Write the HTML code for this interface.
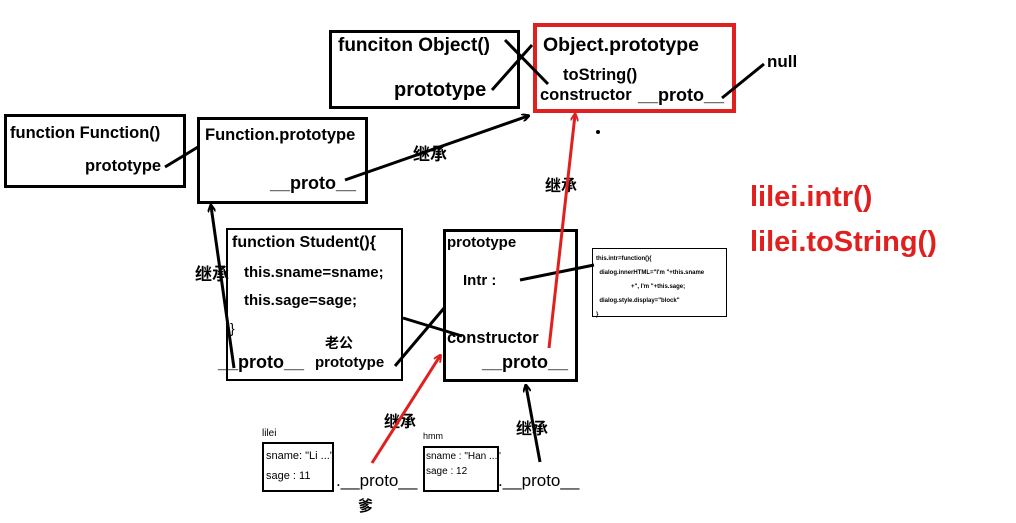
<!DOCTYPE html>
<html><head><meta charset="utf-8"><style>
body{margin:0;width:1016px;height:523px;background:#fff;position:relative;overflow:hidden;font-family:"Liberation Sans","Noto Sans CJK SC",sans-serif;font-weight:bold;color:#000}
.b{position:absolute;border:3px solid #000;box-sizing:border-box}
.t{position:absolute;white-space:nowrap}
</style></head><body>
<div class="b" style="left:329px;top:30px;width:191px;height:79px"></div>
<div class="b" style="left:533px;top:23px;width:203px;height:90px;border:4px solid #e0201f"></div>
<div class="b" style="left:4px;top:114px;width:182px;height:74px"></div>
<div class="b" style="left:197px;top:117px;width:171px;height:87px"></div>
<div class="b" style="left:226px;top:228px;width:177px;height:153px;border-width:2px"></div>
<div class="b" style="left:443px;top:229px;width:135px;height:153px"></div>
<div class="b" style="left:592px;top:248px;width:135px;height:69px;border-width:1px"></div>
<div class="b" style="left:262px;top:442px;width:72px;height:50px;border-width:2px"></div>
<div class="b" style="left:423px;top:446px;width:76px;height:46px;border-width:2px"></div>

<div class="t" style="left:338px;top:35px;font-size:19px">funciton Object()</div>
<div class="t" style="left:394px;top:79px;font-size:20px">prototype</div>
<div class="t" style="left:543px;top:34px;font-size:19.5px">Object.prototype</div>
<div class="t" style="left:563px;top:66px;font-size:16.5px">toString()</div>
<div class="t" style="left:540px;top:86px;font-size:16.5px">constructor</div>
<div class="t" style="left:638px;top:85px;font-size:18px">__proto__</div>
<div class="t" style="left:767px;top:52px;font-size:17px">null</div>
<div class="t" style="left:10px;top:124px;font-size:16.5px">function Function()</div>
<div class="t" style="left:85px;top:157px;font-size:16.5px">prototype</div>
<div class="t" style="left:205px;top:126px;font-size:16.5px">Function.prototype</div>
<div class="t" style="left:270px;top:173px;font-size:18px">__proto__</div>
<div class="t" style="left:413px;top:140px;font-size:17px">继承</div>
<div class="t" style="left:545px;top:172px;font-size:16px">继承</div>
<div class="t" style="left:195px;top:260px;font-size:17px">继承</div>
<div class="t" style="left:232px;top:234px;font-size:16px">function Student(){</div>
<div class="t" style="left:244px;top:264px;font-size:15px">this.sname=sname;</div>
<div class="t" style="left:244px;top:292px;font-size:15px">this.sage=sage;</div>
<div class="t" style="left:230px;top:320px;font-size:14px;font-weight:normal">}</div>
<div class="t" style="left:218px;top:352px;font-size:18px">__proto__</div>
<div class="t" style="left:325px;top:333px;font-size:14px">老公</div>
<div class="t" style="left:315px;top:354px;font-size:15px">prototype</div>
<div class="t" style="left:447px;top:234px;font-size:15px">prototype</div>
<div class="t" style="left:463px;top:272px;font-size:15px">Intr :</div>
<div class="t" style="left:447px;top:329px;font-size:16.5px">constructor</div>
<div class="t" style="left:482px;top:352px;font-size:18px">__proto__</div>
<div class="t" style="left:596px;top:252px;font-size:6px;line-height:14px">this.intr=function(){<br>&nbsp;&nbsp;dialog.innerHTML="I'm "+this.sname<br>&nbsp;&nbsp;&nbsp;&nbsp;&nbsp;&nbsp;&nbsp;&nbsp;&nbsp;&nbsp;&nbsp;&nbsp;&nbsp;&nbsp;&nbsp;&nbsp;&nbsp;&nbsp;&nbsp;&nbsp;&nbsp;+", I'm "+this.sage;<br>&nbsp;&nbsp;dialog.style.display="block"<br>}</div>
<div class="t" style="left:750px;top:181px;font-size:29px;color:#e0201f">lilei.intr()</div>
<div class="t" style="left:750px;top:226px;font-size:29px;color:#e0201f">lilei.toString()</div>
<div class="t" style="left:262px;top:428px;font-size:10px;font-weight:normal">lilei</div>
<div class="t" style="left:266px;top:450px;font-size:11px;font-weight:normal">sname: "Li ..."</div>
<div class="t" style="left:266px;top:470px;font-size:11px;font-weight:normal">sage : 11</div>
<div class="t" style="left:423px;top:431px;font-size:9px;font-weight:normal">hmm</div>
<div class="t" style="left:426px;top:451px;font-size:10px;font-weight:normal">sname : "Han ..."</div>
<div class="t" style="left:426px;top:466px;font-size:10px;font-weight:normal">sage : 12</div>
<div class="t" style="left:336px;top:471px;font-size:17px;font-weight:normal">.__proto__</div>
<div class="t" style="left:498px;top:471px;font-size:17px;font-weight:normal">.__proto__</div>
<div class="t" style="left:358px;top:495px;font-size:15px">爹</div>
<div class="t" style="left:384px;top:408px;font-size:16px">继承</div>
<div class="t" style="left:516px;top:415px;font-size:16px">继承</div>

<svg width="1016" height="523" style="position:absolute;left:0;top:0">
<defs>
<marker id="ak" markerWidth="8" markerHeight="8" refX="6" refY="4" orient="auto" markerUnits="userSpaceOnUse"><path d="M0,0 L8,4 L0,8" fill="none" stroke="#000" stroke-width="2"/></marker>
<marker id="ar" markerWidth="8" markerHeight="8" refX="6" refY="4" orient="auto" markerUnits="userSpaceOnUse"><path d="M0,0 L8,4 L0,8" fill="none" stroke="#e0201f" stroke-width="2"/></marker>
</defs>
<g stroke="#000" stroke-width="3" fill="none">
<line x1="492" y1="90" x2="532" y2="45"/>
<line x1="505" y1="40" x2="548" y2="84"/>
<line x1="722" y1="98" x2="764" y2="64"/>
<line x1="165" y1="167" x2="198" y2="147"/>
<line x1="345" y1="180" x2="528" y2="116" marker-end="url(#ak)"/>
<line x1="234" y1="368" x2="211" y2="206" marker-end="url(#ak)"/>
<line x1="395" y1="366" x2="445" y2="307"/>
<line x1="403" y1="318" x2="462" y2="336"/>
<line x1="520" y1="280" x2="594" y2="265"/>
<line x1="540" y1="462" x2="526" y2="386" marker-end="url(#ak)"/>
</g>
<g stroke="#e0201f" stroke-width="3" fill="none">
<line x1="549" y1="348" x2="575" y2="115" marker-end="url(#ar)"/>
<line x1="372" y1="463" x2="440" y2="356" marker-end="url(#ar)"/>
</g>
<circle cx="598" cy="132" r="2" fill="#000"/>
</svg>
</body></html>
